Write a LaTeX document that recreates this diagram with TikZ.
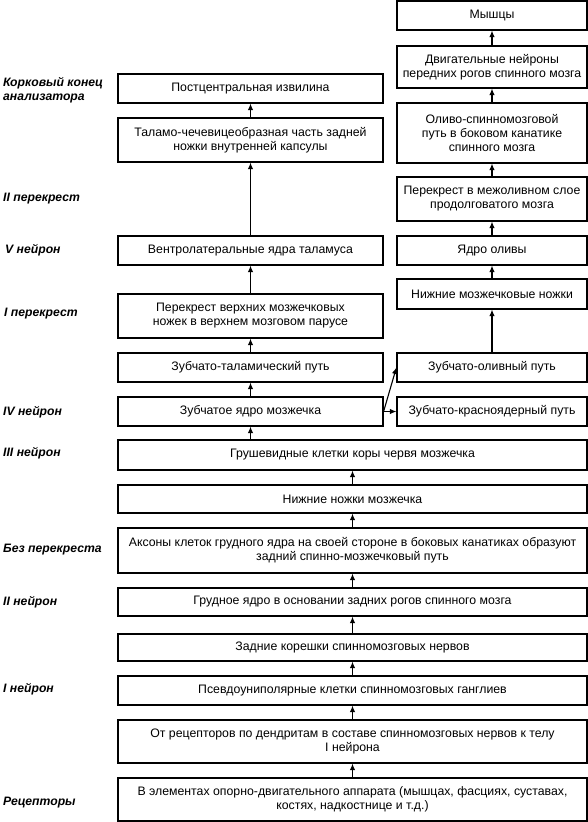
\documentclass[tikz,border=0pt]{standalone}
\usepackage{fontspec}
\setmainfont{Liberation Sans}
\usetikzlibrary{arrows.meta}
\tikzset{
  box/.style={draw=black, line width=1.2pt, fill=white, inner sep=0pt, align=center,
    font=\fontsize{12.3}{14}\selectfont},
  lcol/.style={box, minimum width=265pt},
  rcol/.style={box, minimum width=190pt},
  wcol/.style={box, minimum width=469pt},
  lbl/.style={anchor=west, inner sep=0pt, align=left, font=\fontsize{12.2}{14}\selectfont\bfseries\itshape},
  arr/.style={line width=1.1pt, -{Latex[length=6.5pt,width=5.5pt]}}
}
\begin{document}
\begin{tikzpicture}[x=1pt,y=-1pt]
\useasboundingbox[fill=white] (0,0) rectangle (588,822);
% right column
\node[rcol, minimum height=29pt] (m1) at (492,15.5) {Мышцы};
\node[rcol, minimum height=42pt] (m2) at (492,67) {Двигательные нейроны\\передних рогов спинного мозга};
\node[rcol, minimum height=60pt] (m3) at (492,133) {Оливо-спинномозговой\\путь в боковом канатике\\спинного мозга};
\node[rcol, minimum height=44pt] (m4) at (492,199) {Перекрест в межоливном слое\\продолговатого мозга};
\node[rcol, minimum height=29pt] (m5) at (492,250.5) {Ядро оливы};
\node[rcol, minimum height=30pt] (m6) at (492,294) {Нижние мозжечковые ножки};
\node[rcol, minimum height=29pt] (m7) at (492,367.5) {Зубчато-оливный путь};
\node[rcol, minimum height=29pt] (m8) at (492,411.5) {Зубчато-красноядерный путь};
% left column
\node[lcol, minimum height=29pt] (l1) at (250.5,88.5) {Постцентральная извилина};
\node[lcol, minimum height=44pt] (l2) at (250.5,140) {Таламо-чечевицеобразная часть задней\\ножки внутренней капсулы};
\node[lcol, minimum height=29pt] (l3) at (250.5,250.5) {Вентролатеральные ядра таламуса};
\node[lcol, minimum height=44pt] (l4) at (250.5,316) {Перекрест верхних мозжечковых\\ножек в верхнем мозговом парусе};
\node[lcol, minimum height=29pt] (l5) at (250.5,367.5) {Зубчато-таламический путь};
\node[lcol, minimum height=29pt] (l6) at (250.5,411.5) {Зубчатое ядро мозжечка};
% wide column
\node[wcol, minimum height=30pt] (w1) at (352.5,455) {Грушевидные клетки коры червя мозжечка};
\node[wcol, minimum height=28pt] (w2) at (352.5,499) {Нижние ножки мозжечка};
\node[wcol, minimum height=45pt] (w3) at (352.5,550.5) {Аксоны клеток грудного ядра на своей стороне в боковых канатиках образуют\\задний спинно-мозжечковый путь};
\node[wcol, minimum height=28pt] (w4) at (352.5,602) {Грудное ядро в основании задних рогов спинного мозга};
\node[wcol, minimum height=27pt] (w5) at (352.5,647.5) {Задние корешки спинномозговых нервов};
\node[wcol, minimum height=29pt] (w6) at (352.5,690.5) {Псевдоуниполярные клетки спинномозговых ганглиев};
\node[wcol, minimum height=43pt] (w7) at (352.5,741.5) {От рецепторов по дендритам в составе спинномозговых нервов к телу\\I нейрона};
\node[wcol, minimum height=43pt] (w8) at (352.5,799.5) {В элементах опорно-двигательного аппарата (мышцах, фасциях, суставах,\\костях, надкостнице и т.д.)};
% labels
\node[lbl] (t1) at (3,90) {Корковый конец\\анализатора};
\node[lbl] (t2) at (3,199) {II перекрест};
\node[lbl] (t3) at (5,250) {V нейрон};
\node[lbl] (t4) at (4,314) {I перекрест};
\node[lbl] (t5) at (3,412) {IV нейрон};
\node[lbl] (t6) at (3,453) {III нейрон};
\node[lbl] (t7) at (3,550) {Без перекреста};
\node[lbl] (t8) at (3,602) {II нейрон};
\node[lbl] (t9) at (3,689) {I нейрон};
\node[lbl] (t10) at (3,803) {Рецепторы};
% arrows wide
\draw[arr] (w8.north) -- (w7.south);
\draw[arr] (w7.north) -- (w6.south);
\draw[arr] (w6.north) -- (w5.south);
\draw[arr] (w5.north) -- (w4.south);
\draw[arr] (w4.north) -- (w3.south);
\draw[arr] (w3.north) -- (w2.south);
\draw[arr] (w2.north) -- (w1.south);
\draw[arr] (l6.south |- w1.north) -- (l6.south);
% left
\draw[arr] (l6.north) -- (l5.south);
\draw[arr] (l5.north) -- (l4.south);
\draw[arr] (l4.north) -- (l3.south);
\draw[arr] (l3.north) -- (l2.south);
\draw[arr] (l2.north) -- (l1.south);
% branch
\draw[arr] (l6.east) -- (m7.west);
\draw[arr] (l6.east) -- (m8.west);
% right
\draw[arr] (m7.north) -- (m6.south);
\draw[arr] (m6.north) -- (m5.south);
\draw[arr] (m5.north) -- (m4.south);
\draw[arr] (m4.north) -- (m3.south);
\draw[arr] (m3.north) -- (m2.south);
\draw[arr] (m2.north) -- (m1.south);
\end{tikzpicture}
\end{document}
